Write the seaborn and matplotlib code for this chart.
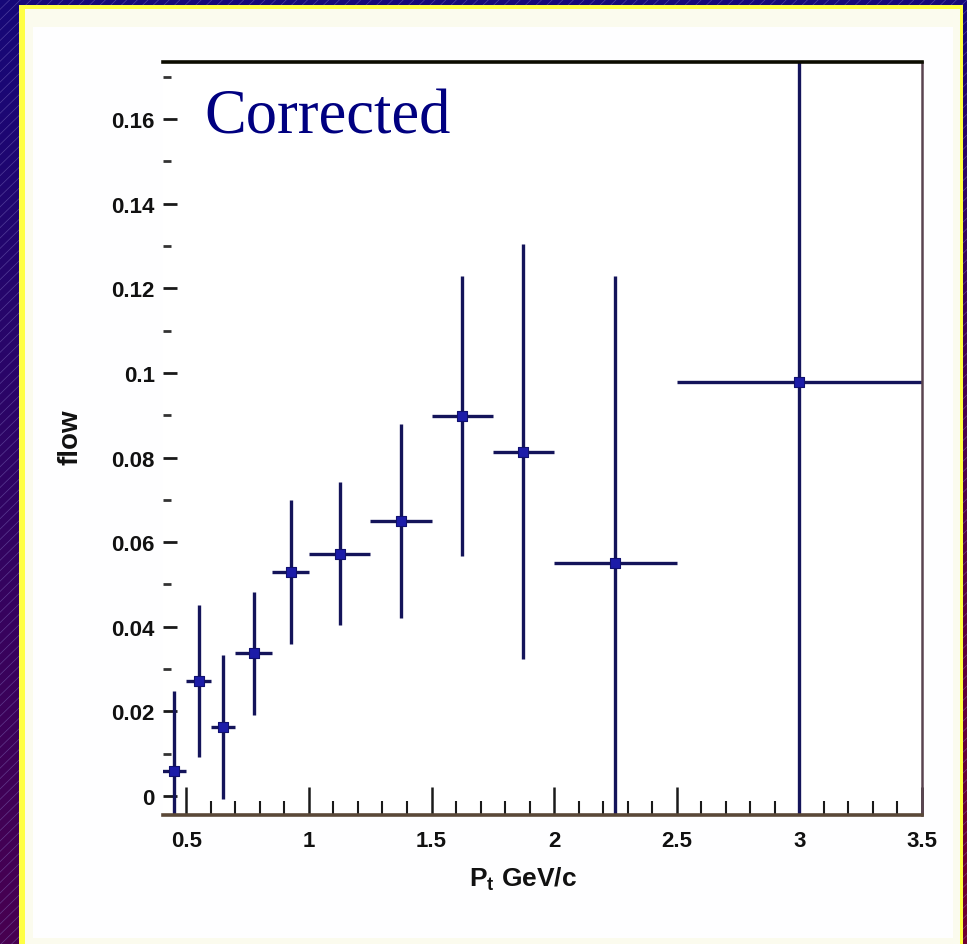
import numpy as np
import pandas as pd
import matplotlib
matplotlib.use("Agg")
import matplotlib.pyplot as plt
from matplotlib.patches import Rectangle
from matplotlib.ticker import MultipleLocator, FixedLocator
import seaborn as sns

# Measured flow vs transverse momentum (bin centres, half-widths, values, errors)
pt_center = [0.45, 0.55, 0.65, 0.775, 0.925, 1.125, 1.375, 1.625, 1.875, 2.25, 3.0]
pt_halfwidth = [0.05, 0.05, 0.05, 0.075, 0.075, 0.125, 0.125, 0.125, 0.125, 0.25, 0.5]
flow_value = [0.0058, 0.0271, 0.0164, 0.0337, 0.0529, 0.0573, 0.065, 0.0898, 0.0814, 0.055, 0.0978]
flow_error = [0.019, 0.018, 0.017, 0.0145, 0.017, 0.017, 0.023, 0.033, 0.049, 0.068, 0.11]

x_ticks = [0.5, 1, 1.5, 2, 2.5, 3, 3.5]
x_tick_labels = ["0.5", "1", "1.5", "2", "2.5", "3", "3.5"]
y_ticks = [0, 0.02, 0.04, 0.06, 0.08, 0.1, 0.12, 0.14, 0.16]
y_tick_labels = ["0", "0.02", "0.04", "0.06", "0.08", "0.1", "0.12", "0.14", "0.16"]

df = pd.DataFrame({"pt": pt_center, "dpt": pt_halfwidth,
                   "flow": flow_value, "dflow": flow_error})

sns.set_theme(style="ticks")
plt.rcParams["font.family"] = ["Liberation Sans", "DejaVu Sans"]

W, H = 967, 945
fig = plt.figure(figsize=(W / 100, H / 100), dpi=100)

# --- slide background: dark blue-purple gradient with fine diagonal hatching
bg = fig.add_axes([0, 0, 1, 1], zorder=-10)
bg.set_axis_off()
gy, gx = np.mgrid[0:1:200j, 0:1:200j]
top_col = np.array([0x16, 0x08, 0x78]) / 255
bot_col = np.array([0x48, 0x00, 0x50]) / 255
right_col = np.array([0x70, 0x00, 0x30]) / 255
t = gy[..., None]
s = (gx[..., None] ** 3)
img = (1 - t) * top_col + t * bot_col
img = (1 - s * t) * img + s * t * right_col
bg.imshow(img, extent=[0, 1, 0, 1], aspect="auto", origin="upper")
for k in np.arange(-1.0, 1.0, 0.011):
    bg.plot([k, k + 1], [0, 1], color=(0.55, 0.5, 0.8), lw=0.5, alpha=0.45,
            transform=bg.transAxes)
bg.set_xlim(0, 1)
bg.set_ylim(0, 1)

# --- light panel with a yellow rim
px0, px1 = 19 / W, 963 / W
py0, py1 = 0.0, 1 - 6 / H
fig.patches.append(Rectangle((px0, py0), px1 - px0, py1 - py0,
                             transform=fig.transFigure, facecolor="#ffff44",
                             edgecolor="none", zorder=-5))
fig.patches.append(Rectangle((px0 + 6 / W, py0), px1 - px0 - 9 / W, py1 - py0 - 4 / H,
                             transform=fig.transFigure, facecolor="#fbfbee",
                             edgecolor="none", zorder=-4))
fig.patches.append(Rectangle((px0 + 14 / W, py0 + 6 / H), px1 - px0 - 24 / W, py1 - py0 - 28 / H,
                             transform=fig.transFigure, facecolor="#fefeff",
                             edgecolor="none", zorder=-3))

# --- data axes
ax = fig.add_axes([163 / W, 1 - 816 / H, (922 - 163) / W, (816 - 63) / H])
ax.set_facecolor("white")
ax.errorbar(df["pt"], df["flow"], xerr=df["dpt"], yerr=df["dflow"], fmt="none",
            ecolor="#14145a", elinewidth=2.4, capsize=0, zorder=2)
sns.scatterplot(data=df, x="pt", y="flow", ax=ax, marker="s", s=50,
                color="#1c1ca8", edgecolor="#101070", linewidth=0.8, zorder=3,
                legend=False)

ax.set_xlim(0.405, 3.5)
ax.set_ylim(-0.0045, 0.1735)

ax.xaxis.set_major_locator(FixedLocator(x_ticks))
ax.set_xticklabels(x_tick_labels)
ax.xaxis.set_minor_locator(MultipleLocator(0.1))
ax.yaxis.set_major_locator(FixedLocator(y_ticks))
ax.set_yticklabels(y_tick_labels)
ax.yaxis.set_minor_locator(MultipleLocator(0.01))

ax.tick_params(axis="x", which="major", direction="in", length=20, width=1.8,
               color="#1a1a1a", labelsize=16, pad=11)
ax.tick_params(axis="x", which="minor", direction="in", length=10, width=1.5,
               color="#1a1a1a")
ax.tick_params(axis="y", which="major", direction="in", length=10, width=2.0,
               color="#1a1a1a", labelsize=16, pad=6)
ax.tick_params(axis="y", which="minor", direction="in", length=6, width=2.0,
               color="#333333")
for lab in ax.get_xticklabels() + ax.get_yticklabels():
    lab.set_fontweight("bold")
    lab.set_color("#111111")

ax.spines["left"].set_visible(False)
ax.spines["top"].set_color("#0c0c00")
ax.spines["top"].set_linewidth(2.6)
ax.spines["right"].set_color("#5a4450")
ax.spines["right"].set_linewidth(1.8)
ax.spines["bottom"].set_color("#5a4838")
ax.spines["bottom"].set_linewidth(2.6)

ax.set_xlabel(r"P$_{\mathregular{t}}$ GeV/c", fontsize=19, fontweight="bold",
              color="#111111")
ax.xaxis.set_label_coords((523 - 163) / 759, -(866 - 816) / 753)
ax.set_ylabel("flow", fontsize=20, fontweight="bold", color="#111111")
ax.yaxis.set_label_coords((84 - 163) / 759, (816 - 437) / 753)

ax.text(0.055, 0.965, "Corrected", transform=ax.transAxes, ha="left", va="top",
        fontsize=45, color="#000080", family=["Liberation Serif", "DejaVu Serif"])

fig.savefig("out.png", dpi=100)
